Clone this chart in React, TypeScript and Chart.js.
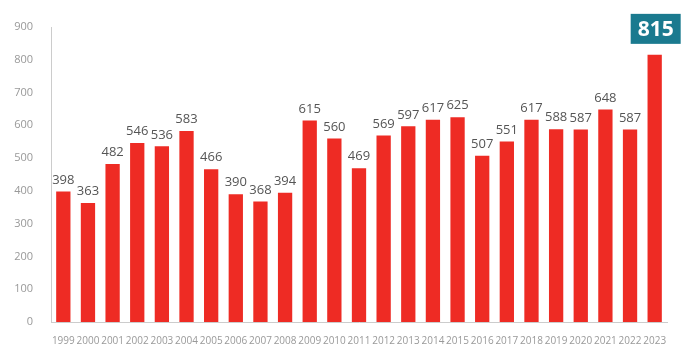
import React, { useEffect, useRef } from "react";
import { Chart, registerables } from "chart.js";

Chart.register(...registerables);

const years = ["1999","2000","2001","2002","2003","2004","2005","2006","2007","2008","2009","2010","2011","2012","2013","2014","2015","2016","2017","2018","2019","2020","2021","2022","2023"];
const values = [398,363,482,546,536,583,466,390,368,394,615,560,469,569,597,617,625,507,551,617,588,587,648,587,815];
const yTicks = [0,100,200,300,400,500,600,700,800,900];

const FONT = "'Open Sans', 'Noto Sans', sans-serif";

const labelPlugin = {
  id: "valueLabels",
  afterDatasetsDraw(chart: any) {
    const ctx = chart.ctx;
    const meta = chart.getDatasetMeta(0);
    ctx.save();
    meta.data.forEach((bar: any, i: number) => {
      const v = values[i];
      if (i === values.length - 1) {
        const w = 50, h = 30;
        const x = bar.x - w / 2 + 1;
        const y = bar.y - 11 - h;
        ctx.fillStyle = "#1a7a8f";
        ctx.fillRect(x, y, w, h);
        ctx.fillStyle = "#ffffff";
        ctx.font = `bold 21px ${FONT}`;
        ctx.textAlign = "center";
        ctx.textBaseline = "middle";
        ctx.fillText(String(v), x + w / 2, y + h / 2 + 1);
      } else {
        ctx.fillStyle = "#555555";
        ctx.font = `13px ${FONT}`;
        ctx.textAlign = "center";
        ctx.textBaseline = "bottom";
        ctx.fillText(String(v), bar.x, bar.y - 5);
      }
    });
    ctx.restore();
  },
};

export default function App() {
  const ref = useRef<HTMLCanvasElement | null>(null);
  useEffect(() => {
    if (!ref.current) return;
    const chart = new Chart(ref.current, {
      type: "bar",
      data: {
        labels: years,
        datasets: [
          {
            data: values,
            backgroundColor: "#ee2b24",
            barPercentage: 0.58,
            categoryPercentage: 1,
          },
        ],
      },
      options: {
        animation: false,
        responsive: true,
        maintainAspectRatio: false,
        layout: { padding: { top: 27, right: 33, bottom: 0, left: 0 } },
        plugins: { legend: { display: false }, tooltip: { enabled: false } },
        scales: {
          x: {
            grid: { display: false },
            border: { display: true, color: "#cccccc" },
            ticks: { color: "#999999", font: { family: FONT, size: 10 }, maxRotation: 0, autoSkip: false, padding: 5 },
            afterFit: (s: any) => { s.height = 28; },
          },
          y: {
            min: 0,
            max: 900,
            afterBuildTicks: (s: any) => { s.ticks = yTicks.map((v) => ({ value: v })); },
            grid: { display: false },
            border: { display: true, color: "#cccccc" },
            ticks: { color: "#999999", font: { family: FONT, size: 11 }, padding: 10 },
            afterFit: (s: any) => { s.width = 51; },
          },
        },
      },
      plugins: [labelPlugin],
    });
    return () => chart.destroy();
  }, []);
  return (
    <div style={{ position: "fixed", left: 0, top: 0, width: 700, height: 350, background: "#fff" }}>
      <canvas ref={ref} />
    </div>
  );
}
